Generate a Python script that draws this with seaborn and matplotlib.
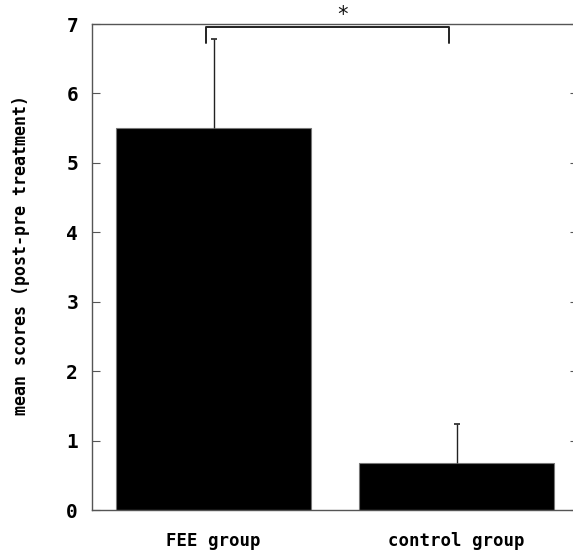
import matplotlib
matplotlib.use("Agg")
import matplotlib.pyplot as plt
import seaborn as sns
import pandas as pd

# Chart data
groups = ["FEE group", "control group"]
means = [5.5, 0.67]
sd_upper = [1.28, 0.57]
y_ticks = [0, 1, 2, 3, 4, 5, 6, 7]
y_label = "mean scores (post-pre treatment)"
sig_mark = "*"

sns.set_style("white")
plt.rcParams['font.family'] = ['DejaVu Sans Mono', 'DejaVu Sans']
plt.rcParams['text.color'] = 'black'

df = pd.DataFrame({"group": groups, "score": means})

fig = plt.figure(figsize=(5.73, 5.52), dpi=100)
ax = fig.add_axes([92 / 573, 42 / 552, 486 / 573, 486 / 552])

sns.barplot(data=df, x="group", y="score", color="black", width=0.8,
            edgecolor="#777777", linewidth=0.8, errorbar=None, ax=ax)

# one-sided error bars (hide the lower cap)
eb = ax.errorbar(range(len(groups)), means, yerr=[[0, 0], sd_upper], fmt="none",
                 ecolor="#222222", elinewidth=1.0, capsize=2.5, capthick=1.2, zorder=3)
eb[1][0].set_visible(False)

ax.set_xlim(-0.5, 1.5)
ax.set_ylim(0, 7)
ax.set_yticks(y_ticks)
ax.set_yticklabels([str(t) for t in y_ticks], fontsize=14, fontweight="bold", color="black")
ax.set_xticks(range(len(groups)))
ax.set_xticklabels(groups, fontsize=12.5, fontweight="bold", color="black")
ax.tick_params(axis="y", direction="in", length=6, width=0.8, color="#555555",
               left=True, right=True, pad=10)
ax.tick_params(axis="x", length=0, pad=16)
ax.set_xlabel("")
ax.set_ylabel(y_label, fontsize=12, fontweight="bold", color="black")
ax.yaxis.set_label_coords(-0.127, 0.525)

for side in ["left", "right", "top", "bottom"]:
    ax.spines[side].set_visible(True)
    ax.spines[side].set_color("#555555")
    ax.spines[side].set_linewidth(1.0)

# significance bracket
bx0, bx1, by_top, by_low = -0.03, 0.97, 6.95, 6.72
ax.plot([bx0, bx0, bx1, bx1], [by_low, by_top, by_top, by_low],
        color="#222222", lw=1.4, clip_on=False, zorder=4)
ax.text(0.53, 7.13, sig_mark, ha="center", va="center", fontsize=15,
        color="#111111", clip_on=False)

fig.savefig("out.png", dpi=100)
